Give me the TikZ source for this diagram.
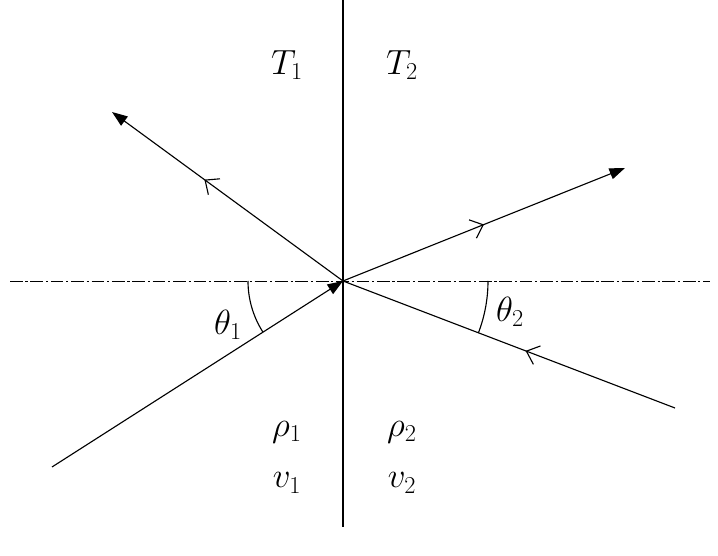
\documentclass[tikz,border=0pt]{standalone}
\usetikzlibrary{arrows.meta,decorations.markings}
\tikzset{
  ray/.style={line width=0.8pt},
  midbarb/.style={postaction={decorate},decoration={markings,
    mark=at position #1 with {\arrow{Straight Barb[length=8pt,width=14pt,line width=0.8pt]}}}},
  lbl/.style={font=\fontsize{25}{28}\selectfont}
}
\begin{document}
\begin{tikzpicture}[x=0.025cm,y=-0.025cm]
  \useasboundingbox (0,0) rectangle (718,556);
  \coordinate (o) at (343,281);
  \coordinate (inl) at (52,467);
  \coordinate (outl) at (112,112);
  \coordinate (outr) at (625,168);
  \coordinate (inr) at (675,408);
  \coordinate (top) at (343,0);
  \coordinate (bot) at (343,527);
  \coordinate (hl) at (10,281);
  \coordinate (hr) at (710,281);
  % interface and normal
  \draw[line width=1.4pt] (top) -- (bot);
  \draw[line width=0.5pt,dash pattern=on 9pt off 2pt on 1.5pt off 2pt] (hl) -- (hr);
  % rays
  \draw[ray,-{Triangle[length=11pt,width=8pt]}] (inl) -- (o);
  \draw[ray,-{Triangle[length=11pt,width=8pt]},midbarb=0.6] (o) -- (outl);
  \draw[ray,-{Triangle[length=11pt,width=8pt]},midbarb=0.5] (o) -- (outr);
  \draw[ray,midbarb=0.45] (inr) -- (o);
  % angles
  \draw[ray] (o) ++(180:95) arc[start angle=180,end angle=147.4,radius=95];
  \draw[ray] (o) ++(0:145) arc[start angle=0,end angle=21,radius=145];
  \node[lbl] (th1) at (228,325) {$\theta_1$};
  \node[lbl] (th2) at (510,312) {$\theta_2$};
  \node[lbl] (t1) at (287,65) {$T_1$};
  \node[lbl] (t2) at (402,65) {$T_2$};
  \node[lbl] (r1) at (287,432) {$\rho_1$};
  \node[lbl] (r2) at (402,432) {$\rho_2$};
  \node[lbl] (v1) at (287,483) {$v_1$};
  \node[lbl] (v2) at (402,483) {$v_2$};
\end{tikzpicture}
\end{document}
